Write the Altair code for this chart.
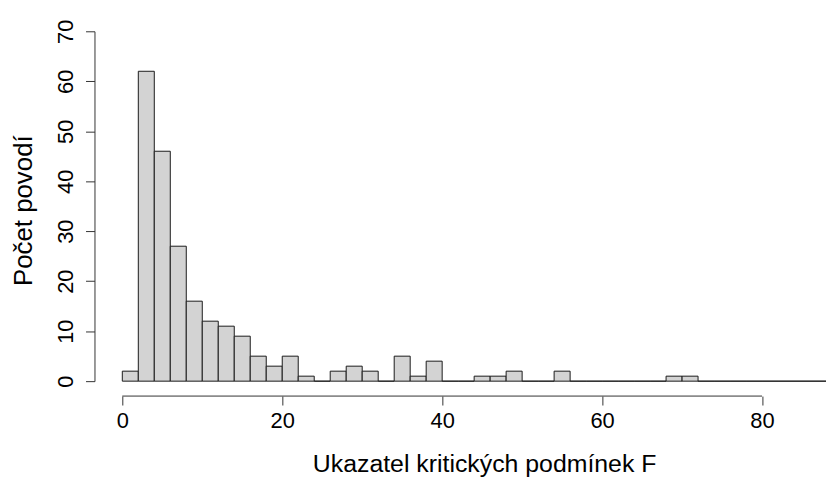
import altair as alt
import pandas as pd

# Histogram bins (width 2) and counts
bin_lower = [0, 2, 4, 6, 8, 10, 12, 14, 16, 18,
             20, 22, 24, 26, 28, 30, 32, 34, 36, 38,
             40, 42, 44, 46, 48, 50, 52, 54, 56, 58,
             60, 62, 64, 66, 68, 70, 72, 74, 76, 78,
             80, 82, 84, 86]
counts = [2, 62, 46, 27, 16, 12, 11, 9, 5, 3,
          5, 1, 0, 2, 3, 2, 0, 5, 1, 4,
          0, 0, 1, 1, 2, 0, 0, 2, 0, 0,
          0, 0, 0, 0, 1, 1, 0, 0, 0, 0,
          0, 0, 0, 0]
bin_width = 2
x_ticks = [0, 20, 40, 60, 80]
y_ticks = [0, 10, 20, 30, 40, 50, 60, 70]

df = pd.DataFrame({"lo": bin_lower, "count": counts})
df["hi"] = df["lo"] + bin_width

axis_df = pd.DataFrame({"a": [x_ticks[0]], "b": [x_ticks[-1]]})

FONT = "Liberation Sans"
W, H = 712, 352

xscale = alt.Scale(domain=[0, 88.5], nice=False, zero=False)
yscale = alt.Scale(domain=[0, 70], nice=False)

bars = alt.Chart(df).mark_rect(
    fill="#D3D3D3", stroke="#1a1a1a", strokeWidth=1
).encode(
    x=alt.X("lo:Q", scale=xscale, axis=alt.Axis(
        values=x_ticks, domain=False, grid=False, offset=15,
        tickSize=9, tickColor="#333333", tickWidth=1,
        labelFont=FONT, labelFontSize=22, labelColor="#000000",
        labelPadding=6, labelFlush=False, labelBaseline="top",
        title="Ukazatel kritických podmínek F", titleFont=FONT,
        titleFontSize=25, titleFontWeight="normal", titleColor="#000000",
        titleBaseline="alphabetic", titleY=76, titleX=364,
    )),
    x2="hi:Q",
    y=alt.Y("count:Q", scale=yscale, axis=alt.Axis(
        values=y_ticks, grid=False, offset=28,
        domainColor="#333333", domainWidth=1,
        tickSize=9, tickColor="#333333", tickWidth=1,
        labelFont=FONT, labelFontSize=22, labelColor="#000000",
        labelAngle=270, labelAlign="center", labelBaseline="bottom",
        labelPadding=8, labelFlush=False,
        title="Počet povodí", titleFont=FONT, titleFontSize=26,
        titleFontWeight="normal", titleColor="#000000",
        titleAngle=270, titleAlign="center", titleBaseline="alphabetic",
        titleX=-63, titleY=180,
    )),
    y2=alt.datum(0),
)

xline = alt.Chart(axis_df).mark_rule(color="#333333", strokeWidth=1).encode(
    x=alt.X("a:Q", scale=xscale),
    x2="b:Q",
    y=alt.value(H + 15),
)

chart = alt.layer(bars, xline).properties(
    width=W, height=H,
    autosize=alt.AutoSizeParams(type="none"),
    padding={"left": 115, "top": 22, "right": 0, "bottom": 95},
).configure(background="white").configure_view(stroke=None)

chart.save("out.html", embed_options={"renderer": "svg", "actions": False})
